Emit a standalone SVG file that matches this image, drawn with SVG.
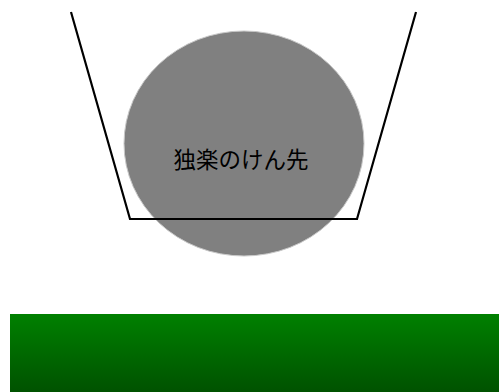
<svg xmlns="http://www.w3.org/2000/svg" width="499" height="392" viewBox="0 0 499 392">
<defs>
<linearGradient id="g" x1="0" y1="0" x2="0" y2="1">
<stop offset="0" stop-color="#008000"/>
<stop offset="1" stop-color="#005200"/>
</linearGradient>
<style>
.cup{fill:none;stroke:#000;stroke-width:2.2}
.lbl{font-family:"Noto Sans CJK JP",sans-serif;font-size:22.5px;fill:#000;text-anchor:middle}
</style>
</defs>
<g id="ground"><rect x="10" y="314" width="489" height="78" fill="url(#g)"/></g>
<g id="koma">
<ellipse cx="244" cy="143.5" rx="120" ry="112.5" fill="#808080" stroke="#c8c8c8" stroke-width="1"/>
<text class="lbl" x="241" y="168">独楽のけん先</text>
</g>
<g id="cup"><polyline class="cup" points="71,12 130,219 357,219 416,12"/></g>
</svg>
